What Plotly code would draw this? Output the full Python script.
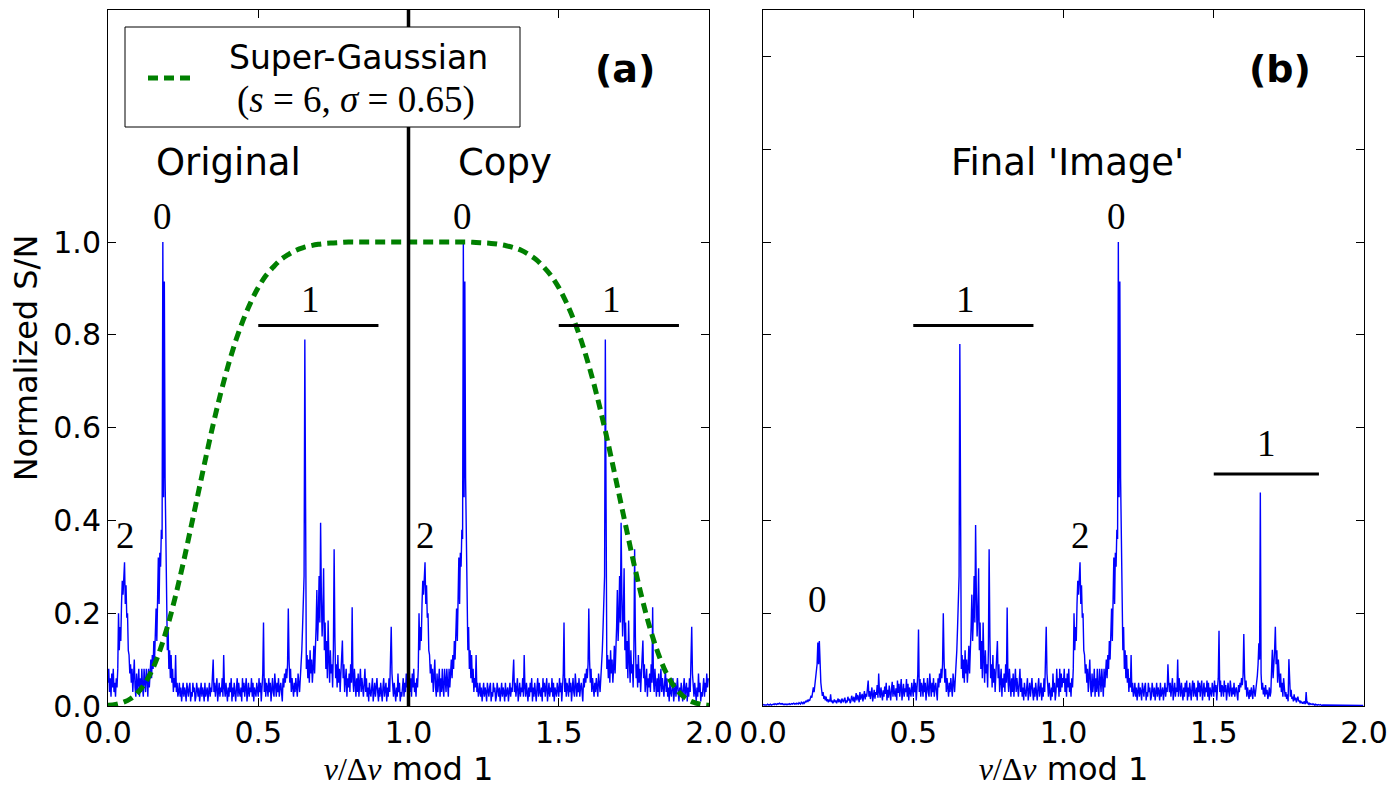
import plotly.graph_objects as go

# ---------------- data ----------------
STEP = 0.0025  # sampling step of the folded spectra (nu/dnu units)

# Panel (a): folded S/N spectrum, 0 <= x < 1 (20 values per 0.05 in x)
original_sn = [
    0.05, 0.08, 0.03, 0.06, 0.02, 0.07, 0.04, 0.08, 0.03, 0.05, 0.02, 0.06, 0.04, 0.08, 0.20, 0.12, 0.17, 0.14, 0.22, 0.27,
    0.24, 0.27, 0.31, 0.22, 0.26, 0.19, 0.20, 0.12, 0.11, 0.07, 0.09, 0.05, 0.08, 0.03, 0.06, 0.10, 0.04, 0.02, 0.07, 0.03,
    0.05, 0.08, 0.02, 0.06, 0.03, 0.08, 0.04, 0.02, 0.08, 0.05, 0.03, 0.08, 0.06, 0.02, 0.08, 0.04, 0.07, 0.10, 0.06, 0.11,
    0.08, 0.14, 0.10, 0.16, 0.21, 0.14, 0.26, 0.32, 0.22, 0.33, 0.30, 0.38, 0.36, 1.00, 0.45, 0.915, 0.49, 0.33, 0.24, 0.12,
    0.17, 0.08, 0.12, 0.06, 0.11, 0.05, 0.08, 0.03, 0.06, 0.04, 0.11, 0.03, 0.05, 0.02, 0.03, 0.05, 0.02, 0.04, 0.01, 0.03,
    0.05, 0.02, 0.04, 0.03, 0.01, 0.05, 0.03, 0.02, 0.04, 0.05, 0.01, 0.03, 0.02, 0.05, 0.03, 0.04, 0.01, 0.02, 0.05, 0.03,
    0.02, 0.04, 0.01, 0.03, 0.05, 0.02, 0.04, 0.03, 0.01, 0.05, 0.02, 0.03, 0.04, 0.01, 0.03, 0.05, 0.02, 0.04, 0.03, 0.06,
    0.10, 0.03, 0.05, 0.02, 0.04, 0.06, 0.01, 0.03, 0.05, 0.02, 0.04, 0.03, 0.06, 0.02, 0.11, 0.04, 0.02, 0.05, 0.03, 0.01,
    0.04, 0.02, 0.05, 0.03, 0.06, 0.01, 0.04, 0.02, 0.05, 0.03, 0.01, 0.04, 0.06, 0.02, 0.05, 0.03, 0.02, 0.04, 0.01, 0.06,
    0.03, 0.05, 0.02, 0.04, 0.06, 0.01, 0.03, 0.05, 0.02, 0.04, 0.03, 0.06, 0.02, 0.05, 0.01, 0.04, 0.03, 0.02, 0.05, 0.04,
    0.02, 0.06, 0.03, 0.05, 0.01, 0.04, 0.07, 0.18, 0.03, 0.06, 0.02, 0.05, 0.04, 0.02, 0.06, 0.03, 0.05, 0.01, 0.04, 0.06,
    0.03, 0.02, 0.07, 0.04, 0.02, 0.05, 0.03, 0.06, 0.02, 0.04, 0.05, 0.03, 0.01, 0.06, 0.04, 0.07, 0.05, 0.08, 0.06, 0.09,
    0.21, 0.10, 0.05, 0.08, 0.03, 0.06, 0.04, 0.02, 0.05, 0.03, 0.06, 0.04, 0.02, 0.07, 0.05, 0.03, 0.06, 0.08, 0.12, 0.17,
    0.225, 0.28, 0.79, 0.15, 0.08, 0.11, 0.06, 0.10, 0.05, 0.12, 0.07, 0.10, 0.05, 0.08, 0.13, 0.07, 0.11, 0.17, 0.25, 0.14,
    0.19, 0.28, 0.18, 0.395, 0.24, 0.15, 0.20, 0.297, 0.12, 0.18, 0.08, 0.14, 0.06, 0.184, 0.10, 0.05, 0.12, 0.07, 0.09, 0.04,
    0.12, 0.338, 0.15, 0.06, 0.09, 0.04, 0.11, 0.05, 0.08, 0.03, 0.07, 0.10, 0.141, 0.06, 0.09, 0.03, 0.05, 0.08, 0.02, 0.06,
    0.04, 0.07, 0.03, 0.09, 0.05, 0.213, 0.06, 0.03, 0.08, 0.04, 0.02, 0.06, 0.03, 0.07, 0.02, 0.05, 0.08, 0.03, 0.06, 0.04,
    0.02, 0.05, 0.08, 0.03, 0.06, 0.02, 0.04, 0.01, 0.05, 0.03, 0.02, 0.04, 0.06, 0.01, 0.03, 0.05, 0.02, 0.04, 0.06, 0.03,
    0.01, 0.04, 0.02, 0.05, 0.03, 0.01, 0.04, 0.06, 0.02, 0.03, 0.05, 0.01, 0.04, 0.02, 0.06, 0.03, 0.09, 0.171, 0.07, 0.04,
    0.02, 0.05, 0.03, 0.01, 0.04, 0.02, 0.07, 0.03, 0.05, 0.01, 0.03, 0.02, 0.04, 0.06, 0.02, 0.05, 0.03, 0.07, 0.04, 0.06,
]

# Panel (b): final 'image', 0 <= x < 2 (20 values per 0.05 in x)
final_sn = [
    0.002, 0.003, 0.002, 0.002, 0.003, 0.002, 0.004, 0.003, 0.002, 0.003, 0.004, 0.002, 0.003, 0.003, 0.004, 0.003, 0.005, 0.004, 0.003, 0.005,
    0.004, 0.005, 0.006, 0.004, 0.005, 0.004, 0.005, 0.003, 0.004, 0.003, 0.004, 0.003, 0.004, 0.003, 0.004, 0.005, 0.003, 0.004, 0.005, 0.004,
    0.005, 0.006, 0.004, 0.005, 0.004, 0.006, 0.005, 0.004, 0.007, 0.005, 0.004, 0.008, 0.006, 0.005, 0.009, 0.006, 0.008, 0.011, 0.008, 0.012,
    0.010, 0.013, 0.011, 0.016, 0.022, 0.018, 0.035, 0.040, 0.030, 0.045, 0.060, 0.070, 0.090, 0.137, 0.090, 0.140, 0.070, 0.050, 0.035, 0.022,
    0.030, 0.015, 0.022, 0.012, 0.020, 0.010, 0.015, 0.008, 0.012, 0.010, 0.025, 0.008, 0.012, 0.006, 0.010, 0.014, 0.008, 0.012, 0.006, 0.010,
    0.016, 0.008, 0.014, 0.010, 0.006, 0.016, 0.010, 0.008, 0.014, 0.018, 0.006, 0.012, 0.008, 0.020, 0.012, 0.016, 0.006, 0.010, 0.022, 0.014,
    0.010, 0.020, 0.008, 0.016, 0.028, 0.012, 0.024, 0.018, 0.008, 0.030, 0.014, 0.020, 0.026, 0.010, 0.020, 0.032, 0.014, 0.026, 0.020, 0.038,
    0.055, 0.020, 0.032, 0.015, 0.028, 0.040, 0.010, 0.022, 0.035, 0.016, 0.030, 0.024, 0.045, 0.018, 0.070, 0.030, 0.018, 0.040, 0.025, 0.012,
    0.034, 0.020, 0.042, 0.026, 0.050, 0.012, 0.035, 0.018, 0.044, 0.028, 0.012, 0.036, 0.052, 0.020, 0.045, 0.028, 0.020, 0.038, 0.012, 0.055,
    0.028, 0.048, 0.020, 0.038, 0.058, 0.012, 0.030, 0.048, 0.020, 0.038, 0.030, 0.058, 0.020, 0.048, 0.012, 0.040, 0.030, 0.020, 0.050, 0.040,
    0.020, 0.058, 0.030, 0.050, 0.012, 0.040, 0.068, 0.165, 0.030, 0.058, 0.020, 0.050, 0.040, 0.020, 0.060, 0.030, 0.050, 0.012, 0.040, 0.060,
    0.030, 0.020, 0.070, 0.040, 0.020, 0.050, 0.030, 0.060, 0.020, 0.040, 0.050, 0.030, 0.012, 0.060, 0.040, 0.070, 0.050, 0.080, 0.060, 0.090,
    0.200, 0.100, 0.050, 0.080, 0.030, 0.060, 0.040, 0.020, 0.050, 0.030, 0.060, 0.040, 0.020, 0.070, 0.050, 0.030, 0.060, 0.080, 0.120, 0.170,
    0.220, 0.280, 0.780, 0.150, 0.080, 0.110, 0.060, 0.100, 0.050, 0.120, 0.070, 0.100, 0.050, 0.080, 0.130, 0.070, 0.110, 0.170, 0.240, 0.140,
    0.190, 0.280, 0.180, 0.390, 0.240, 0.150, 0.200, 0.297, 0.120, 0.180, 0.080, 0.140, 0.060, 0.180, 0.100, 0.050, 0.120, 0.070, 0.090, 0.040,
    0.120, 0.338, 0.150, 0.060, 0.090, 0.040, 0.110, 0.050, 0.080, 0.030, 0.070, 0.100, 0.140, 0.060, 0.090, 0.030, 0.050, 0.080, 0.020, 0.060,
    0.040, 0.070, 0.030, 0.090, 0.050, 0.212, 0.060, 0.030, 0.080, 0.040, 0.020, 0.060, 0.030, 0.070, 0.020, 0.050, 0.080, 0.030, 0.060, 0.040,
    0.020, 0.050, 0.080, 0.030, 0.060, 0.020, 0.040, 0.012, 0.050, 0.030, 0.020, 0.040, 0.060, 0.012, 0.030, 0.050, 0.020, 0.040, 0.060, 0.030,
    0.012, 0.040, 0.020, 0.050, 0.030, 0.012, 0.040, 0.060, 0.020, 0.030, 0.050, 0.012, 0.040, 0.020, 0.060, 0.030, 0.090, 0.171, 0.070, 0.040,
    0.020, 0.050, 0.030, 0.012, 0.040, 0.020, 0.070, 0.030, 0.050, 0.012, 0.030, 0.080, 0.040, 0.060, 0.020, 0.080, 0.030, 0.070, 0.040, 0.060,
    0.050, 0.080, 0.030, 0.060, 0.020, 0.070, 0.040, 0.080, 0.030, 0.050, 0.020, 0.060, 0.040, 0.080, 0.200, 0.120, 0.170, 0.140, 0.220, 0.270,
    0.240, 0.270, 0.310, 0.220, 0.260, 0.190, 0.200, 0.120, 0.110, 0.070, 0.090, 0.050, 0.080, 0.030, 0.060, 0.100, 0.040, 0.020, 0.070, 0.030,
    0.050, 0.080, 0.020, 0.060, 0.030, 0.080, 0.040, 0.020, 0.080, 0.050, 0.030, 0.080, 0.060, 0.020, 0.080, 0.040, 0.070, 0.100, 0.060, 0.110,
    0.080, 0.140, 0.100, 0.160, 0.210, 0.140, 0.260, 0.320, 0.220, 0.330, 0.300, 0.380, 0.360, 1.000, 0.450, 0.915, 0.490, 0.330, 0.240, 0.120,
    0.170, 0.080, 0.120, 0.060, 0.110, 0.050, 0.080, 0.030, 0.060, 0.040, 0.110, 0.030, 0.050, 0.020, 0.030, 0.050, 0.020, 0.040, 0.012, 0.030,
    0.050, 0.020, 0.040, 0.030, 0.012, 0.050, 0.030, 0.020, 0.040, 0.050, 0.012, 0.030, 0.020, 0.050, 0.030, 0.040, 0.012, 0.020, 0.050, 0.030,
    0.020, 0.040, 0.012, 0.030, 0.050, 0.020, 0.040, 0.030, 0.012, 0.050, 0.020, 0.030, 0.040, 0.012, 0.030, 0.050, 0.020, 0.040, 0.030, 0.090,
    0.050, 0.030, 0.050, 0.020, 0.040, 0.060, 0.012, 0.030, 0.050, 0.020, 0.040, 0.030, 0.100, 0.020, 0.060, 0.040, 0.020, 0.050, 0.030, 0.012,
    0.040, 0.020, 0.050, 0.030, 0.055, 0.012, 0.040, 0.020, 0.050, 0.030, 0.012, 0.040, 0.055, 0.020, 0.050, 0.030, 0.020, 0.040, 0.012, 0.055,
    0.030, 0.050, 0.020, 0.040, 0.055, 0.012, 0.030, 0.050, 0.020, 0.040, 0.030, 0.055, 0.020, 0.050, 0.012, 0.040, 0.030, 0.020, 0.050, 0.040,
    0.020, 0.055, 0.030, 0.045, 0.012, 0.040, 0.060, 0.162, 0.030, 0.055, 0.020, 0.045, 0.040, 0.020, 0.055, 0.030, 0.045, 0.012, 0.040, 0.050,
    0.030, 0.020, 0.055, 0.035, 0.020, 0.040, 0.025, 0.050, 0.020, 0.035, 0.040, 0.025, 0.012, 0.045, 0.030, 0.050, 0.040, 0.060, 0.045, 0.065,
    0.155, 0.070, 0.035, 0.055, 0.020, 0.040, 0.030, 0.015, 0.035, 0.020, 0.040, 0.025, 0.015, 0.045, 0.030, 0.020, 0.035, 0.045, 0.065, 0.090,
    0.135, 0.100, 0.460, 0.070, 0.035, 0.050, 0.025, 0.040, 0.020, 0.045, 0.025, 0.035, 0.015, 0.025, 0.040, 0.020, 0.030, 0.080, 0.121, 0.060,
    0.080, 0.120, 0.171, 0.090, 0.120, 0.050, 0.100, 0.070, 0.040, 0.070, 0.030, 0.050, 0.020, 0.060, 0.040, 0.020, 0.030, 0.015, 0.025, 0.010,
    0.101, 0.030, 0.020, 0.035, 0.015, 0.020, 0.010, 0.025, 0.012, 0.018, 0.008, 0.015, 0.020, 0.010, 0.012, 0.006, 0.010, 0.008, 0.005, 0.008,
    0.006, 0.010, 0.004, 0.030, 0.006, 0.008, 0.004, 0.006, 0.003, 0.005, 0.004, 0.003, 0.005, 0.003, 0.002, 0.004, 0.002, 0.003, 0.002, 0.003,
    0.002, 0.002, 0.003, 0.002, 0.001, 0.002, 0.002, 0.001, 0.002, 0.001, 0.002, 0.001, 0.001, 0.002, 0.001, 0.001, 0.001, 0.001, 0.001, 0.001,
    0.001, 0.001, 0.001, 0.001, 0.001, 0.001, 0.001, 0.001, 0.001, 0.001, 0.001, 0.001, 0.001, 0.001, 0.001, 0.001, 0.001, 0.001, 0.001, 0.001,
    0.001, 0.001, 0.001, 0.001, 0.001, 0.001, 0.001, 0.001, 0.001, 0.001, 0.001, 0.001, 0.001, 0.001, 0.001, 0.001, 0.001, 0.001, 0.001, 0.001,
]

# Super-Gaussian window (s=6, sigma=0.65), sampled every 0.025 from 0 to 2
SG_STEP = 0.025
sg_window = [
    0.0014, 0.0034, 0.0077, 0.0157, 0.0295, 0.051, 0.082, 0.124, 0.176, 0.238,
    0.307, 0.382, 0.458, 0.534, 0.607, 0.674, 0.734, 0.787, 0.832, 0.870,
    0.902, 0.927, 0.946, 0.962, 0.973, 0.982, 0.988, 0.992, 0.995, 0.997,
    0.998, 0.999, 1.0, 1.0, 1.0, 1.0, 1.0, 1.0, 1.0, 1.0,
    1.0,
    1.0, 1.0, 1.0, 1.0, 1.0, 1.0, 1.0, 1.0, 0.999, 0.998,
    0.997, 0.995, 0.992, 0.988, 0.982, 0.973, 0.962, 0.946, 0.927, 0.902,
    0.870, 0.832, 0.787, 0.734, 0.674, 0.607, 0.534, 0.458, 0.382, 0.307,
    0.238, 0.176, 0.124, 0.082, 0.051, 0.0295, 0.0157, 0.0077, 0.0034, 0.0014,
]

# Mode labels (degree l) and the bars marking l=1 regions
labels_a_text = ["0", "1", "2", "0", "1", "2"]
labels_a_x = [0.18, 0.675, 0.058, 1.18, 1.675, 1.058]
labels_a_y = [1.054, 0.876, 0.368, 1.054, 0.876, 0.368]
labels_b_text = ["0", "1", "2", "1", "0"]
labels_b_x = [0.182, 0.674, 1.057, 1.674, 1.178]
labels_b_y = [0.230, 0.876, 0.368, 0.566, 1.054]
bars_a_x0 = [0.5, 1.5]
bars_a_x1 = [0.9, 1.9]
bars_a_y = [0.82, 0.82]
bars_b_x0 = [0.5, 1.5]
bars_b_x1 = [0.9, 1.85]
bars_b_y = [0.82, 0.50]

x_tickvals = [0.0, 0.5, 1.0, 1.5, 2.0]
x_ticktext = ["0.0", "0.5", "1.0", "1.5", "2.0"]
ya_tickvals = [0.0, 0.2, 0.4, 0.6, 0.8, 1.0]
ya_ticktext = ["0.0", "0.2", "0.4", "0.6", "0.8", "1.0"]
yb_tickvals = [0.0, 0.2, 0.4, 0.6, 0.8, 1.0, 1.2, 1.4]

# ---------------- build ----------------
x_orig = [round(i * STEP, 5) for i in range(len(original_sn))]
x_copy = [round(v + 1.0, 5) for v in x_orig]
x_final = [round(i * STEP, 5) for i in range(len(final_sn))]
x_sg = [round(i * SG_STEP, 4) for i in range(len(sg_window))]

W, H = 1400, 800
def px(v):
    return v / W
def py(v):
    return 1 - v / H

SANS = "DejaVu Sans"
SERIF = "Liberation Serif"
BLUE = "#0000ff"
GREEN = "#008000"

fig = go.Figure()
fig.add_trace(go.Scatter(
    x=x_orig + x_copy, y=original_sn + original_sn, mode="lines",
    line=dict(color=BLUE, width=1.4), name="Original + Copy",
    xaxis="x", yaxis="y", showlegend=False, hoverinfo="skip"))
fig.add_trace(go.Scatter(
    x=x_sg, y=sg_window, mode="lines",
    line=dict(color=GREEN, width=5, dash="10px,6px", shape="spline"),
    name="Super-Gaussian", xaxis="x", yaxis="y", showlegend=False))
fig.add_trace(go.Scatter(
    x=x_final, y=final_sn, mode="lines",
    line=dict(color=BLUE, width=1.4), name="Final 'Image'",
    xaxis="x2", yaxis="y2", showlegend=False, hoverinfo="skip"))

ydom = [py(706), py(10)]
axis_common = dict(showline=True, linecolor="black", linewidth=1, mirror="ticks",
                   ticks="inside", ticklen=8, tickwidth=1, tickcolor="black",
                   showgrid=False, zeroline=False,
                   tickfont=dict(family=SANS, size=30, color="black"))
xtitle = ("<span style='font-family:Liberation Serif'><i>ν</i>/Δ<i>ν</i></span> mod 1")

fig.update_layout(
    width=W, height=H, margin=dict(l=0, r=0, t=0, b=0),
    paper_bgcolor="white", plot_bgcolor="white",
    font=dict(family=SANS, color="black"),
    xaxis=dict(domain=[px(108), px(709)], range=[0, 2], anchor="y",
               tickvals=x_tickvals, ticktext=x_ticktext,
               title=dict(text=xtitle, font=dict(size=32), standoff=8),
               automargin=False, **axis_common),
    yaxis=dict(domain=ydom, range=[0, 1.5], anchor="x",
               tickvals=ya_tickvals, ticktext=ya_ticktext,
               title=dict(text="Normalized S/N", font=dict(size=32), standoff=6),
               automargin=False, **axis_common),
    xaxis2=dict(domain=[px(763), px(1364)], range=[0, 2], anchor="y2",
                tickvals=x_tickvals, ticktext=x_ticktext,
                title=dict(text=xtitle, font=dict(size=32), standoff=8),
                automargin=False, **axis_common),
    yaxis2=dict(domain=ydom, range=[0, 1.5], anchor="x2",
                tickvals=yb_tickvals, showticklabels=False,
                automargin=False, **axis_common),
)

shapes = []
# boundary between original and copy
shapes.append(dict(type="line", xref="x", yref="y", x0=1.0, x1=1.0, y0=0, y1=1.5,
                   line=dict(color="black", width=3.5)))
for x0, x1, y in zip(bars_a_x0, bars_a_x1, bars_a_y):
    shapes.append(dict(type="line", xref="x", yref="y", x0=x0, x1=x1, y0=y, y1=y,
                       line=dict(color="black", width=3)))
for x0, x1, y in zip(bars_b_x0, bars_b_x1, bars_b_y):
    shapes.append(dict(type="line", xref="x2", yref="y2", x0=x0, x1=x1, y0=y, y1=y,
                       line=dict(color="black", width=3)))
# legend box
shapes.append(dict(type="rect", xref="paper", yref="paper",
                   x0=px(125), x1=px(520), y0=py(127), y1=py(27),
                   line=dict(color="black", width=1), fillcolor="white"))
shapes.append(dict(type="line", xref="paper", yref="paper",
                   x0=px(148), x1=px(191), y0=py(78), y1=py(78),
                   line=dict(color=GREEN, width=5, dash="10px,6px")))
fig.update_layout(shapes=shapes)

ann = []
def add_text(text, x, y, xref, yref, size, family=SANS, bold=False):
    t = f"<b>{text}</b>" if bold else text
    ann.append(dict(text=t, x=x, y=y, xref=xref, yref=yref, showarrow=False,
                    xanchor="center", yanchor="middle",
                    font=dict(family=family, size=size, color="black")))

add_text("Super-Gaussian", px(358), py(57), "paper", "paper", 33)
add_text("(<i>s</i> = 6, <i>σ</i> = 0.65)", px(356), py(100), "paper", "paper", 37, SERIF)
add_text("Original", 0.40, 1.172, "x", "y", 37)
add_text("Copy", 1.32, 1.172, "x", "y", 37)
add_text("Final 'Image'", 1.013, 1.172, "x2", "y2", 37)
add_text("(a)", 1.719, 1.372, "x", "y", 38, bold=True)
add_text("(b)", 1.72, 1.372, "x2", "y2", 38, bold=True)
for t, x, y in zip(labels_a_text, labels_a_x, labels_a_y):
    add_text(t, x, y, "x", "y", 37, SERIF)
for t, x, y in zip(labels_b_text, labels_b_x, labels_b_y):
    add_text(t, x, y, "x2", "y2", 37, SERIF)
fig.update_layout(annotations=ann)

fig.write_html("out.html")
